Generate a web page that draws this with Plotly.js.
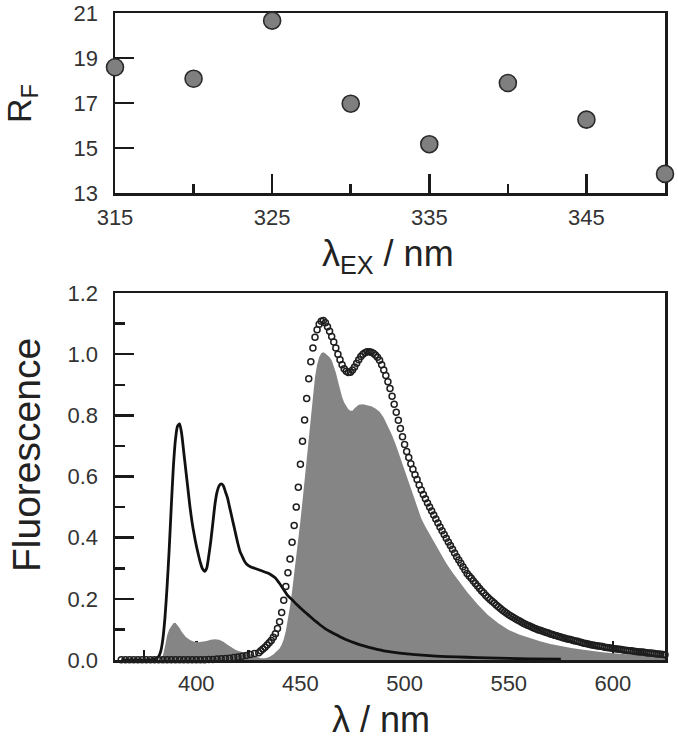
<!DOCTYPE html>
<html>
<head>
<meta charset="utf-8">
<script src="https://cdn.plot.ly/plotly-3.0.1.min.js"></script>
<style>html,body{margin:0;padding:0;background:#fff;}#chart{width:678px;height:744px;}</style>
</head>
<body>
<div id="chart"></div>
<script>
// ---- Top panel: R_F vs excitation wavelength ----
const exWavelength = [315, 320, 325, 330, 335, 340, 345, 350];
const rfValues = [18.59, 18.08, 20.66, 16.97, 15.17, 17.89, 16.26, 13.85];
const topXTicks = [315, 325, 335, 345];
const topYTicks = [13, 15, 17, 19, 21];

// ---- Bottom panel: fluorescence spectra ----
// solid black line
const solidX = [364, 370, 376, 380, 382, 383, 384, 385, 386, 387, 388, 389, 390, 391, 392, 393, 394, 395, 396, 397, 398, 399, 400, 401, 402, 403, 404, 405, 406, 407, 408, 409, 410, 411, 412, 413, 414, 415, 416, 417, 418, 419, 420, 421, 422, 423, 424, 426, 428, 430, 432, 434, 436, 438, 440, 442, 444, 446, 448, 450, 452, 454, 456, 458, 460, 462, 464, 466, 468, 470, 473, 476, 480, 485, 490, 495, 500, 510, 520, 530, 540, 550, 560, 575];
const solidY = [0.0, 0.0, 0.0, 0.003, 0.012, 0.03, 0.07, 0.14, 0.24, 0.36, 0.50, 0.63, 0.72, 0.765, 0.772, 0.74, 0.68, 0.62, 0.56, 0.50, 0.45, 0.41, 0.375, 0.345, 0.318, 0.298, 0.29, 0.30, 0.34, 0.39, 0.45, 0.51, 0.55, 0.57, 0.576, 0.57, 0.55, 0.53, 0.50, 0.47, 0.44, 0.41, 0.38, 0.355, 0.34, 0.325, 0.315, 0.305, 0.30, 0.295, 0.29, 0.285, 0.278, 0.268, 0.25, 0.23, 0.21, 0.197, 0.183, 0.170, 0.158, 0.146, 0.134, 0.123, 0.112, 0.102, 0.094, 0.087, 0.080, 0.073, 0.064, 0.056, 0.047, 0.038, 0.030, 0.025, 0.021, 0.015, 0.011, 0.009, 0.007, 0.005, 0.004, 0.003];

// grey filled spectrum
const shadeX = [383, 384, 385, 386, 387, 388, 389, 390, 391, 392, 393, 394, 395, 397, 399, 401, 403, 405, 407, 409, 411, 413, 415, 417, 419, 421, 423, 425, 427, 429, 431, 433, 435, 437, 439, 440, 441, 442, 443, 444, 445, 446, 447, 448, 449, 450, 451, 452, 453, 454, 455, 456, 457, 458, 459, 460, 461, 462, 463, 464, 465, 466, 467, 468, 469, 470, 471, 472, 473, 474, 475, 476, 477, 478, 480, 482, 484, 486, 488, 490, 492, 494, 496, 498, 500, 502, 504, 506, 508, 510, 512, 515, 518, 520, 523, 526, 530, 535, 540, 545, 550, 555, 560, 565, 570, 575, 580, 585, 590, 595, 600, 605, 610, 615, 620, 625];
const shadeY = [0.0, 0.015, 0.045, 0.080, 0.100, 0.112, 0.120, 0.122, 0.115, 0.105, 0.092, 0.082, 0.075, 0.065, 0.060, 0.058, 0.059, 0.062, 0.066, 0.068, 0.066, 0.060, 0.050, 0.040, 0.033, 0.028, 0.026, 0.022, 0.016, 0.010, 0.006, 0.006, 0.010, 0.018, 0.030, 0.038, 0.050, 0.068, 0.095, 0.130, 0.175, 0.225, 0.280, 0.335, 0.395, 0.455, 0.520, 0.590, 0.665, 0.740, 0.810, 0.870, 0.925, 0.965, 0.990, 1.003, 1.006, 1.002, 0.996, 0.990, 0.980, 0.962, 0.940, 0.912, 0.885, 0.860, 0.842, 0.830, 0.820, 0.815, 0.815, 0.823, 0.830, 0.835, 0.836, 0.833, 0.830, 0.822, 0.812, 0.792, 0.766, 0.735, 0.700, 0.660, 0.620, 0.577, 0.536, 0.497, 0.463, 0.436, 0.412, 0.373, 0.338, 0.316, 0.286, 0.257, 0.222, 0.182, 0.147, 0.120, 0.098, 0.083, 0.071, 0.061, 0.052, 0.045, 0.039, 0.034, 0.029, 0.025, 0.022, 0.019, 0.016, 0.014, 0.012, 0.011];

// open-circle spectrum
const dotsX = [364, 366, 368, 370, 372, 374, 376, 378, 380, 382, 384, 386, 388, 390, 392, 394, 396, 398, 400, 402, 404, 406, 408, 410, 412, 414, 416, 418, 420, 422, 424, 426, 428,
  430, 431, 432, 433, 434, 435, 436, 437, 438, 439, 440, 441, 442, 443, 444, 445, 446, 447, 448, 449, 450, 451, 452, 453, 454, 455, 456, 457, 458, 459, 460, 461, 462, 463, 464, 465, 466, 467, 468, 469, 470, 471, 472, 473, 474, 475, 476, 477, 478, 479, 480, 481, 482, 483, 484, 485, 486, 487, 488, 489, 490, 491, 492, 493, 494, 495, 496, 497, 498, 499, 500, 501, 502, 503, 504, 505, 506, 507, 508, 509, 510, 511, 512, 513, 514, 515, 516, 517, 518, 519, 520, 521, 522, 523, 524, 525, 526, 527, 528, 529, 530, 531, 532, 533, 534, 535, 536, 537, 538, 539, 540, 541, 542, 543, 544, 545, 546, 547, 548, 549, 550, 551, 552, 553, 554, 555, 556, 557, 558, 559, 560, 561, 562, 563, 564, 565, 566, 567, 568, 569, 570, 571, 572, 573, 574, 575, 576, 577, 578, 579, 580, 581, 582, 583, 584, 585, 586, 587, 588, 589, 590, 591, 592, 593, 594, 595, 596, 597, 598, 599, 600, 601, 602, 603, 604, 605, 606, 607, 608, 609, 610, 611, 612, 613, 614, 615, 616, 617, 618, 619, 620, 621, 622, 623, 624, 625];
const dotsY = [0.001, 0.001, 0.001, 0.001, 0.001, 0.001, 0.001, 0.001, 0.001, 0.001, 0.001, 0.001, 0.001, 0.001, 0.001, 0.001, 0.001, 0.001, 0.001, 0.001, 0.001, 0.002, 0.002, 0.003, 0.004, 0.005, 0.006, 0.008, 0.010, 0.012, 0.015, 0.018, 0.021,
  0.024, 0.030, 0.036, 0.042, 0.049, 0.056, 0.064, 0.074, 0.086, 0.103, 0.125, 0.155, 0.195, 0.240, 0.285, 0.330, 0.385, 0.440, 0.500, 0.565, 0.640, 0.715, 0.785, 0.855, 0.920, 0.975, 1.020, 1.055, 1.080, 1.098, 1.108, 1.110, 1.103, 1.090, 1.075, 1.058, 1.040, 1.020, 1.000, 0.982, 0.965, 0.952, 0.944, 0.940, 0.941, 0.948, 0.958, 0.970, 0.982, 0.992, 1.000, 1.005, 1.008, 1.008, 1.006, 1.003, 0.997, 0.990, 0.980, 0.965, 0.948, 0.930, 0.910, 0.888, 0.862, 0.836, 0.810, 0.784, 0.757, 0.730, 0.705, 0.682, 0.662, 0.642, 0.624, 0.606, 0.590, 0.572, 0.556, 0.541, 0.527, 0.513, 0.500, 0.487, 0.474, 0.461, 0.448, 0.435, 0.423, 0.410, 0.398, 0.386, 0.374, 0.362, 0.350, 0.338, 0.327, 0.316, 0.305, 0.294, 0.283, 0.275, 0.267, 0.258, 0.250, 0.242, 0.234, 0.226, 0.219, 0.211, 0.204, 0.198, 0.192, 0.186, 0.180, 0.174, 0.168, 0.163, 0.158, 0.153, 0.148, 0.144, 0.140, 0.136, 0.132, 0.128, 0.124, 0.120, 0.117, 0.114, 0.111, 0.108, 0.105, 0.102, 0.099, 0.097, 0.095, 0.092, 0.090, 0.088, 0.085, 0.083, 0.081, 0.079, 0.077, 0.075, 0.073, 0.071, 0.069, 0.068, 0.066, 0.064, 0.062, 0.061, 0.059, 0.057, 0.055, 0.054, 0.052, 0.051, 0.049, 0.048, 0.047, 0.046, 0.045, 0.044, 0.042, 0.041, 0.040, 0.039, 0.038, 0.037, 0.036, 0.035, 0.034, 0.033, 0.032, 0.031, 0.030, 0.030, 0.029, 0.028, 0.027, 0.026, 0.026, 0.025, 0.024, 0.023, 0.023, 0.022, 0.021, 0.020, 0.020, 0.019, 0.018, 0.017];

const FONT = 'Liberation Sans, Arial, Helvetica, sans-serif';
const INK = '#1a1a1a';
const LABEL = '#333333';

// helper: pixel -> paper coords (plot area 115..665 x, 13..660 y)
const M = {l: 115, r: 13, t: 13, b: 84};
const PW = 678 - M.l - M.r, PH = 744 - M.t - M.b;
const px = v => (v - M.l) / PW;
const py = v => (744 - M.b - v) / PH;

const traces = [
  {x: exWavelength, y: rfValues, xaxis: 'x', yaxis: 'y', type: 'scatter', mode: 'markers',
   cliponaxis: false,
   marker: {size: 17, color: '#7f7f7f', line: {color: '#2a2a2a', width: 1.6}}},
  {x: shadeX, y: shadeY, xaxis: 'x2', yaxis: 'y2', type: 'scatter', mode: 'lines',
   fill: 'tozeroy', fillcolor: '#858585', line: {width: 0, color: '#858585'}},
  {x: solidX, y: solidY, xaxis: 'x2', yaxis: 'y2', type: 'scatter', mode: 'lines',
   line: {color: '#111111', width: 2.8, shape: 'spline', smoothing: 0.6}},
  {x: dotsX, y: dotsY, xaxis: 'x2', yaxis: 'y2', type: 'scatter', mode: 'markers',
   cliponaxis: false,
   marker: {symbol: 'circle-open', size: 6, color: '#1e1e1e', line: {width: 1.5}}}
];

const axisBase = {
  showgrid: false, zeroline: false, showline: true, linewidth: 2.5, linecolor: INK,
  mirror: true, ticks: 'inside', tickwidth: 2.5, tickcolor: INK, layer: 'below traces',
  ticklabeloverflow: 'allow',
  tickfont: {family: FONT, size: 22, color: LABEL}
};

const layout = {
  width: 678, height: 744,
  margin: M,
  paper_bgcolor: '#ffffff', plot_bgcolor: '#ffffff',
  showlegend: false,
  font: {family: FONT, color: LABEL},
  xaxis: Object.assign({}, axisBase, {
    domain: [0, 1], anchor: 'y', range: [315, 350],
    tickmode: 'array', tickvals: topXTicks, ticklen: 19, ticklabelstandoff: 3,
    minor: {tickmode: 'linear', tick0: 315, dtick: 5, ticks: 'inside', ticklen: 9, tickwidth: 2.5, tickcolor: INK, showgrid: false}
  }),
  yaxis: Object.assign({}, axisBase, {
    domain: [py(193), 1], anchor: 'x', range: [13, 21],
    tickmode: 'array', tickvals: topYTicks, ticklen: 19, ticklabelstandoff: 10
  }),
  xaxis2: Object.assign({}, axisBase, {
    domain: [0, 1], anchor: 'y2', range: [361, 625],
    tick0: 400, dtick: 50, ticklen: 19, ticklabelstandoff: 2,
    minor: {tick0: 400, dtick: 25, ticks: 'inside', ticklen: 10, tickwidth: 2.5, tickcolor: INK, showgrid: false}
  }),
  yaxis2: Object.assign({}, axisBase, {
    domain: [0, py(293)], anchor: 'x2', range: [0, 1.2],
    tick0: 0, dtick: 0.2, tickformat: '.1f', ticklen: 19, ticklabelstandoff: 10,
    minor: {tick0: 0, dtick: 0.1, ticks: 'inside', ticklen: 10, tickwidth: 2.5, tickcolor: INK, showgrid: false}
  }),
  annotations: [
    {text: 'R<sub>F</sub>', xref: 'paper', yref: 'paper', x: px(21), y: py(104),
     xanchor: 'center', yanchor: 'middle', textangle: -90, showarrow: false,
     font: {family: FONT, size: 34, color: '#222'}},
    {text: 'λ<sub>EX</sub> / nm', xref: 'paper', yref: 'paper', x: px(388), y: py(256),
     xanchor: 'center', yanchor: 'middle', showarrow: false,
     font: {family: FONT, size: 36, color: '#222'}},
    {text: 'Fluorescence', xref: 'paper', yref: 'paper', x: px(27), y: py(455),
     xanchor: 'center', yanchor: 'middle', textangle: -90, showarrow: false,
     font: {family: FONT, size: 39, color: '#222'}},
    {text: 'λ / nm', xref: 'paper', yref: 'paper', x: px(381), y: py(719),
     xanchor: 'center', yanchor: 'middle', showarrow: false,
     font: {family: FONT, size: 36, color: '#222'}}
  ]
};

Plotly.newPlot('chart', traces, layout, {staticPlot: true, displayModeBar: false});
</script>
</body>
</html>
